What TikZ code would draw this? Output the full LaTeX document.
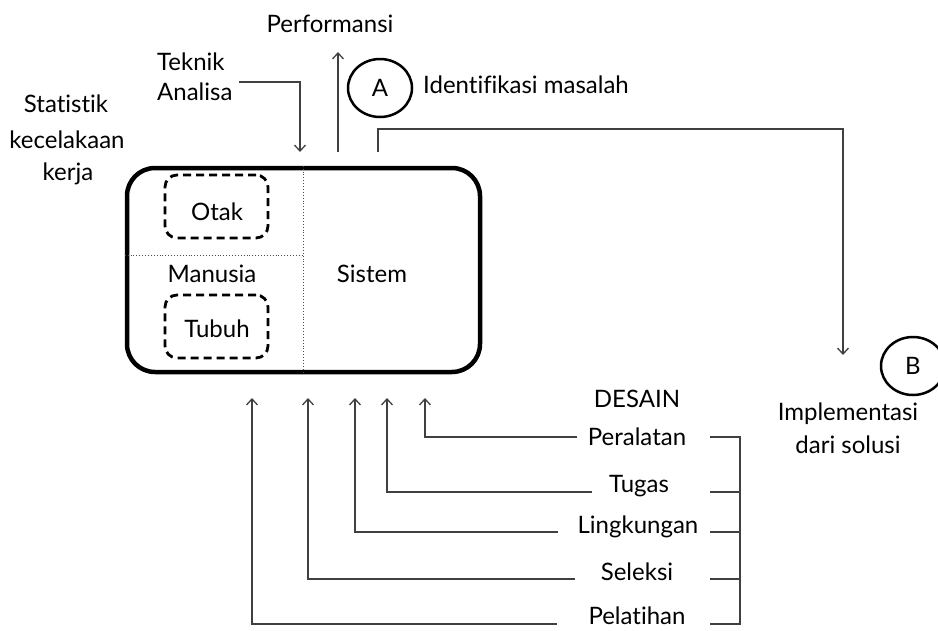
\documentclass[tikz,border=0pt]{standalone}
\usepackage{fontspec}
\setmainfont{Lato}[Ligatures=NoCommon]
\usetikzlibrary{arrows.meta,shapes.geometric}
\begin{document}
\begin{tikzpicture}[x=1pt,y=-1pt,
  lbl/.style={font=\fontsize{24}{28}\selectfont, inner sep=0pt},
  conn/.style={draw=black!75, line width=1.3pt},
  arr/.style={conn, -{Straight Barb[length=6pt,width=11pt,line width=1.3pt]}},
  mainbox/.style={draw, line width=4.5pt, rounded corners=28pt, inner sep=0pt},
  subbox/.style={draw, line width=2.8pt, dash pattern=on 8pt off 5pt, rounded corners=12pt, inner sep=0pt},
  divider/.style={draw=black!70, line width=0.9pt, dotted},
  tag/.style={ellipse, draw, line width=2.5pt, minimum width=64pt, minimum height=58pt, inner sep=0pt},
]
\useasboundingbox (0,0) rectangle (938,630);

% system box with its two dividers
\node[mainbox, minimum width=353pt, minimum height=204pt] (sys) at (303.5,270) {};
\coordinate (mid) at (303.5,255);
\draw[divider] (sys.north) -- (sys.south);
\draw[divider] (sys.west |- mid) -- (mid);

% brain and body
\node[subbox, minimum width=103pt, minimum height=63pt] (otakbox) at (216.5,206.5) {};
\node[subbox, minimum width=103pt, minimum height=63pt] (tubuhbox) at (216.5,326.5) {};
\node[lbl, anchor=base] (otak) at (217,220) {Otak};
\node[lbl, anchor=base] (tubuh) at (217,337) {Tubuh};
\node[lbl, anchor=base] (manusia) at (212,282) {Manusia};
\node[lbl, anchor=base] (sistem) at (372,282) {Sistem};

% labels above the box
\node[lbl, anchor=base] (perf) at (330,32) {Performansi};
\node[lbl, anchor=base west] (teknik) at (157,70) {Teknik};
\node[lbl, anchor=base west] (analisa) at (157,100) {Analisa};
\node[lbl, anchor=base] (stat1) at (66,112) {Statistik};
\node[lbl, anchor=base] (stat2) at (67,148) {kecelakaan};
\node[lbl, anchor=base] (stat3) at (68,180) {kerja};
\node[tag] (A) at (380,88) {};
\node[lbl] at (A.center) {A};
\node[lbl, anchor=base west] (ident) at (423,93) {Identifikasi masalah};

% step B
\node[tag] (B) at (913,366) {};
\node[lbl] at (B.center) {B};
\node[lbl, anchor=base] (impl1) at (848,420) {Implementasi};
\node[lbl, anchor=base] (impl2) at (848,453) {dari solusi};

% design factors
\node[lbl, anchor=base] (desain) at (637,407) {DESAIN};
\node[lbl, anchor=base] (peralatan) at (637,445) {Peralatan};
\node[lbl, anchor=base] (tugas) at (639,492) {Tugas};
\node[lbl, anchor=base] (lingkungan) at (638,533) {Lingkungan};
\node[lbl, anchor=base] (seleksi) at (637,580) {Seleksi};
\node[lbl, anchor=base] (pelatihan) at (637,624) {Pelatihan};

% connectors above the box
\coordinate (tkA) at (239,82);
\coordinate (tkB) at (300,152);
\draw[arr] (tkA) -| (tkB);
\coordinate (pfA) at (338,152);
\coordinate (pfB) at (338,52);
\draw[arr] (pfA) -- (pfB);
\coordinate (bA) at (378,152);
\coordinate (bB) at (378,129);
\coordinate (bC) at (843,355);
\draw[arr] (bA) -- (bB) -| (bC);

% design factors feeding into the box
\foreach \nm/\ly/\lx/\ax in {per/437/577/425, tug/492/592/387, lin/532/558/355, sel/579/575/308, pel/624/557/252}{
  \coordinate (\nm S) at (\lx,\ly);
  \coordinate (\nm T) at (\ax,398);
  \draw[arr] (\nm S) -| (\nm T);
}

% bracket grouping the factors
\coordinate (brTop) at (740,437);
\coordinate (brBot) at (740,624);
\draw[conn] (710,437) -- (brTop) -- (brBot) -- (710,624);
\foreach \ly in {492,532,579}{
  \draw[conn] (710,\ly) -- (740,\ly);
}
\end{tikzpicture}
\end{document}
